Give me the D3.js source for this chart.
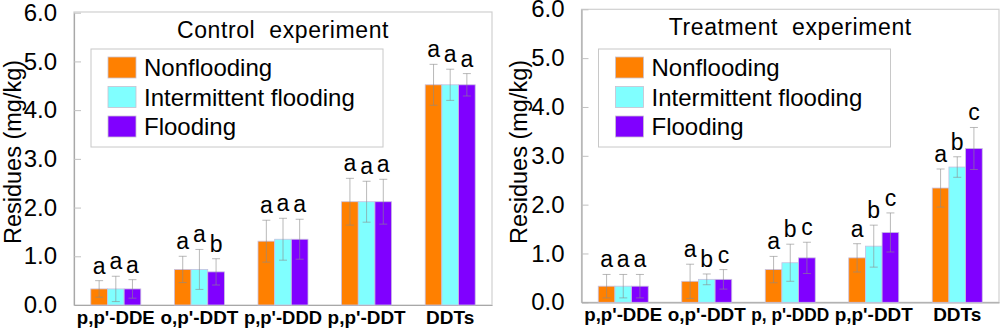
<!DOCTYPE html>
<html>
<head>
<meta charset="utf-8">
<script src="https://cdn.jsdelivr.net/npm/d3@7"></script>
<style>
  body { margin: 0; background: #fff; }
  svg { font-family: "Liberation Sans", Arial, sans-serif; }
</style>
</head>
<body>
<div id="chart"></div>
<script>
// categories
const compoundsControl = ["p,p'-DDE", "o,p'-DDT", "p,p'-DDD", "p,p'-DDT", "DDTs"]
const compoundsTreat = ["p,p'-DDE", "o,p'-DDT", "p, p'-DDD", "p,p'-DDT", "DDTs"]
const treatments = ["Nonflooding", "Intermittent flooding", "Flooding"]
const yTicks = [0, 1, 2, 3, 4, 5, 6]

// control experiment (mg/kg), one array per treatment
const controlNon = [0.33, 0.73, 1.31, 2.12, 4.52]
const controlInt = [0.33, 0.73, 1.35, 2.12, 4.52]
const controlFlood = [0.33, 0.68, 1.35, 2.12, 4.52]
const controlNonErr = [0.17, 0.27, 0.43, 0.48, 0.42]
const controlIntErr = [0.26, 0.41, 0.43, 0.42, 0.32]
const controlFloodErr = [0.19, 0.27, 0.41, 0.46, 0.23]
const controlNonSig = ["a", "a", "a", "a", "a"]
const controlIntSig = ["a", "a", "a", "a", "a"]
const controlFloodSig = ["a", "b", "a", "a", "a"]

// treatment experiment (mg/kg)
const treatNon = [0.33, 0.43, 0.67, 0.91, 2.34]
const treatInt = [0.33, 0.47, 0.81, 1.15, 2.77]
const treatFlood = [0.33, 0.47, 0.91, 1.43, 3.15]
const treatNonErr = [0.24, 0.35, 0.27, 0.29, 0.39]
const treatIntErr = [0.24, 0.11, 0.38, 0.43, 0.21]
const treatFloodErr = [0.24, 0.20, 0.32, 0.40, 0.43]
const treatNonSig = ["a", "a", "a", "a", "a"]
const treatIntSig = ["a", "b", "b", "b", "b"]
const treatFloodSig = ["a", "c", "c", "c", "c"]

const colors = ["#ff8000", "#80ffff", "#8000ff"]

const svg = d3.select("#chart")
    .append("svg")
    .attr("width", 1000)
    .attr("height", 330)

function drawPanel(p) {
    const x = d3.scaleBand()
        .domain(p.compounds)
        .range([p.left, p.right])
    const groupW = 50
    const xs = d3.scaleBand()
        .domain(treatments)
        .range([0, groupW])
    const y = d3.scaleLinear()
        .domain([0, 6])
        .range([p.bottom, p.top6])

    const g = svg.append("g")

    // frame
    g.append("rect")
        .attr("x", p.left)
        .attr("y", p.frameTop)
        .attr("width", p.right - p.left)
        .attr("height", p.bottom - p.frameTop)
        .attr("fill", "none")
        .attr("stroke", "#d0d0d0")
        .attr("stroke-width", 1.2)

    // y axis with inward ticks
    const yAxis = g.append("g")
        .attr("transform", `translate(${p.left},0)`)
        .call(d3.axisLeft(y)
            .tickValues(yTicks)
            .tickFormat(d3.format(".1f"))
            .tickSizeInner(-7)
            .tickSizeOuter(0)
            .tickPadding(17))
    yAxis.select(".domain").attr("stroke", "#a8a8a8").attr("stroke-width", 1.2)
    yAxis.selectAll(".tick line").attr("stroke", "#c0c0c0")
    yAxis.selectAll("text")
        .attr("font-size", "24px")
        .attr("font-family", "Liberation Sans, Arial, sans-serif")
        .attr("fill", "#000")

    // x axis
    const xAxis = g.append("g")
        .attr("transform", `translate(0,${p.bottom})`)
        .call(d3.axisBottom(x).tickSize(0).tickPadding(5))
    xAxis.select(".domain").attr("stroke", "#a8a8a8").attr("stroke-width", 1.2)
    xAxis.selectAll("text")
        .attr("font-size", "19px")
        .attr("font-weight", "bold")
        .attr("font-family", "Liberation Sans, Arial, sans-serif")
        .attr("fill", "#000")
        .attr("dy", "0.72em")
        .each(function () {
            // keep labels from running into each other
            if (this.getComputedTextLength() > 78) {
                d3.select(this)
                    .attr("textLength", 78)
                    .attr("lengthAdjust", "spacingAndGlyphs")
            }
        })

    // bars, error bars, letters
    p.series.forEach(function (s, si) {
        const rows = p.compounds.map(function (c, i) {
            return { c: c, v: s.values[i], e: s.errors[i], sig: s.sig[i] }
        })
        const bx = function (d) { return x(d.c) + (x.bandwidth() - groupW) / 2 + xs(treatments[si]) }

        g.selectAll(null)
            .data(rows)
            .enter().append("rect")
            .attr("x", bx)
            .attr("y", function (d) { return y(d.v) })
            .attr("width", xs.bandwidth())
            .attr("height", function (d) { return y(0) - y(d.v) })
            .attr("fill", colors[si])
            .attr("stroke", "#c8c0e0")
            .attr("stroke-width", 0.8)

        const eb = g.selectAll(null)
            .data(rows)
            .enter().append("g")
            .attr("stroke", "#8a8a8a")
            .attr("stroke-opacity", 0.6)
            .attr("stroke-width", 1)
        eb.append("line")
            .attr("x1", function (d) { return bx(d) + xs.bandwidth() / 2 })
            .attr("x2", function (d) { return bx(d) + xs.bandwidth() / 2 })
            .attr("y1", function (d) { return y(d.v + d.e) })
            .attr("y2", function (d) { return y(Math.max(0, d.v - d.e)) })
        eb.append("line")
            .attr("x1", function (d) { return bx(d) + xs.bandwidth() / 2 - 4 })
            .attr("x2", function (d) { return bx(d) + xs.bandwidth() / 2 + 4 })
            .attr("y1", function (d) { return y(d.v + d.e) })
            .attr("y2", function (d) { return y(d.v + d.e) })
        eb.append("line")
            .attr("x1", function (d) { return bx(d) + xs.bandwidth() / 2 - 4 })
            .attr("x2", function (d) { return bx(d) + xs.bandwidth() / 2 + 4 })
            .attr("y1", function (d) { return y(Math.max(0, d.v - d.e)) })
            .attr("y2", function (d) { return y(Math.max(0, d.v - d.e)) })

        g.selectAll(null)
            .data(rows)
            .enter().append("text")
            .attr("x", function (d) { return bx(d) + xs.bandwidth() / 2 })
            .attr("y", function (d) { return y(d.v + d.e) - 7 })
            .attr("text-anchor", "middle")
            .attr("font-size", "23px")
            .attr("fill", "#000")
            .text(function (d) { return d.sig })
    })

    // title
    g.append("text")
        .attr("x", (p.left + p.right) / 2)
        .attr("y", p.titleY)
        .attr("text-anchor", "middle")
        .attr("font-size", "23px")
        .attr("letter-spacing", "0.6px")
        .style("white-space", "pre")
        .text(p.title)

    // legend
    const lx = p.left + 17
    g.append("rect")
        .attr("x", lx)
        .attr("y", 49)
        .attr("width", 292)
        .attr("height", 98)
        .attr("fill", "#fff")
        .attr("stroke", "#c8c8c8")
        .attr("stroke-width", 1)
    treatments.forEach(function (t, i) {
        g.append("rect")
            .attr("x", lx + 17)
            .attr("y", 57 + i * 29.5)
            .attr("width", 28)
            .attr("height", 21)
            .attr("fill", colors[i])
            .attr("stroke", "#c8c0d0")
            .attr("stroke-width", 0.8)
        g.append("text")
            .attr("x", lx + 53)
            .attr("y", 76 + i * 29.5)
            .attr("font-size", "24px")
            .attr("fill", "#000")
            .text(t)
    })

    // y label
    g.append("text")
        .attr("transform", `translate(${p.ylabX},152) rotate(-90)`)
        .attr("text-anchor", "middle")
        .attr("font-size", "23.5px")
        .attr("fill", "#000")
        .text("Residues (mg/kg)")
}

drawPanel({
    compounds: compoundsControl,
    left: 74, right: 492, bottom: 305, top6: 12.7, frameTop: 12,
    title: "Control  experiment", titleY: 38, ylabX: 21,
    series: [
        { values: controlNon, errors: controlNonErr, sig: controlNonSig },
        { values: controlInt, errors: controlIntErr, sig: controlIntSig },
        { values: controlFlood, errors: controlFloodErr, sig: controlFloodSig }
    ]
})

drawPanel({
    compounds: compoundsTreat,
    left: 581.5, right: 999, bottom: 302.3, top6: 9.3, frameTop: 9.3,
    title: "Treatment  experiment", titleY: 35, ylabX: 527,
    series: [
        { values: treatNon, errors: treatNonErr, sig: treatNonSig },
        { values: treatInt, errors: treatIntErr, sig: treatIntSig },
        { values: treatFlood, errors: treatFloodErr, sig: treatFloodSig }
    ]
})
</script>
</body>
</html>
